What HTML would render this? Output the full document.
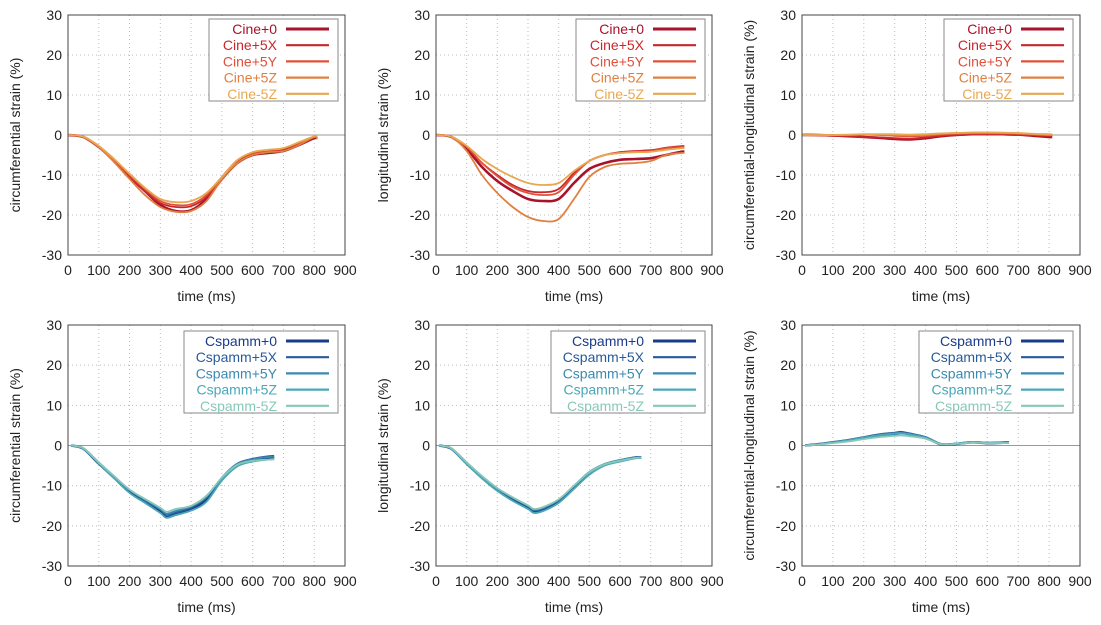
<!DOCTYPE html>
<html><head><meta charset="utf-8"><style>
body{margin:0;background:#fff;width:1101px;height:620px;overflow:hidden}
svg text{font-family:"Liberation Sans",sans-serif;font-size:14px;fill:#222}
</style></head><body>
<svg id="c" width="1101" height="620"></svg>
<script>
const cineTimes=[0,50,100,150,200,250,300,350,400,450,500,550,600,650,700,750,800,810];
const cspTimes=[10,50,100,150,200,250,300,320,350,400,450,500,550,600,650,670];
const cineNames=["Cine+0","Cine+5X","Cine+5Y","Cine+5Z","Cine-5Z"];
const cspNames=["Cspamm+0","Cspamm+5X","Cspamm+5Y","Cspamm+5Z","Cspamm-5Z"];
const xTicks=[0,100,200,300,400,500,600,700,800,900];
const yTicks=[-30,-20,-10,0,10,20,30];
const cineCirc=[
[0,-0.5,-3,-6.5,-10.5,-14,-17.5,-19,-18.8,-16,-11,-7,-5,-4.5,-4,-2.5,-0.8,-0.8],
[0,-0.5,-3,-6.5,-10.5,-14,-17,-18,-17.8,-15.5,-10.5,-6.5,-4.8,-4,-3.5,-2,-0.5,-0.5],
[0,-0.5,-2.8,-6.2,-10,-13.5,-16.5,-17.5,-17.3,-15,-10.5,-6.3,-4.5,-3.8,-3.3,-2,-0.5,-0.5],
[0,-0.5,-3,-6.8,-11,-15,-18,-19.2,-19,-16.5,-11,-7,-5,-4.3,-4,-2.5,-0.5,-1],
[0,-0.4,-2.7,-6,-9.7,-13.2,-16,-16.8,-16.5,-14.5,-10.5,-6.3,-4.3,-3.7,-3.3,-1.8,-0.3,-0.3]];
const cineLong=[
[0,-0.5,-3.5,-8,-11.5,-14,-16,-16.5,-16,-12,-8.5,-7,-6.2,-6,-5.8,-5,-4.2,-4.2],
[0,-0.4,-3,-7,-10,-12.5,-14,-14.3,-13.5,-9.5,-6.5,-5,-4.3,-4,-3.8,-3.2,-2.8,-2.8],
[0,-0.4,-3,-7,-10.3,-13,-14.5,-15,-14.3,-10,-6.5,-5,-4.5,-4.2,-4,-3.3,-3,-3],
[0,-0.5,-4,-10,-14.5,-18,-20.5,-21.5,-21,-16,-10.5,-8,-7.2,-7,-6.5,-5,-4.5,-4.5],
[0,-0.4,-2.7,-6,-8.5,-10.5,-12,-12.5,-12,-9,-6.5,-5,-4.5,-4.3,-4.2,-3.7,-3.3,-3.3]];
const cineCL=[
[0,0,-0.1,-0.3,-0.5,-0.7,-1,-1.1,-0.8,-0.3,0,0.2,0.2,0.2,0.1,-0.2,-0.5,-0.5],
[0,-0.1,-0.2,-0.3,-0.5,-0.6,-0.8,-0.9,-0.6,-0.2,0,0.1,0.1,0.1,0,-0.1,-0.3,-0.3],
[0,0,0,0,0.1,0,-0.2,-0.3,-0.2,0.1,0.3,0.4,0.4,0.4,0.3,0.1,0,0],
[0,0,0,0,0.1,0.1,0,-0.1,0,0.3,0.5,0.6,0.6,0.5,0.4,0.2,0,0],
[0,0,0,0.1,0.2,0.2,0.2,0.1,0.2,0.4,0.5,0.6,0.6,0.6,0.5,0.3,0.2,0.2]];
const cspCirc=[
[0,-0.8,-4.5,-8,-11.5,-14,-16.5,-17.8,-17.2,-16,-13.5,-8.5,-5,-3.8,-3.3,-3.2],
[0,-0.8,-4.3,-7.8,-11.2,-13.8,-16,-17.2,-16.7,-15.5,-13,-8,-4.5,-3.3,-2.7,-2.6],
[0,-0.7,-4.2,-7.7,-11,-13.5,-15.8,-17,-16.3,-15.2,-12.8,-8,-4.5,-3.4,-2.9,-2.8],
[0,-0.8,-4.5,-8.2,-11.8,-14.3,-16.8,-18,-17.3,-16.2,-14,-8.7,-5.2,-4,-3.5,-3.4],
[0,-0.7,-4.2,-7.6,-11,-13.3,-15.5,-16.5,-15.8,-15,-12.5,-8,-4.8,-3.8,-3.5,-3.4]];
const cspLong=[
[0,-0.8,-4.5,-8,-11,-13.5,-15.5,-16.5,-16,-14,-10.5,-7,-4.8,-3.8,-3,-3],
[0,-0.8,-4.3,-7.8,-10.8,-13.2,-15.2,-16.2,-15.7,-13.7,-10.2,-6.7,-4.6,-3.6,-2.9,-2.9],
[0,-0.7,-4.2,-7.7,-10.7,-13,-15,-16,-15.5,-13.5,-10,-6.6,-4.6,-3.6,-3,-3],
[0,-0.8,-4.6,-8.2,-11.3,-13.8,-15.8,-16.8,-16.3,-14.3,-10.8,-7.3,-5,-4,-3.2,-3.1],
[0,-0.7,-4.2,-7.6,-10.6,-12.9,-14.9,-15.8,-15.3,-13.4,-10,-6.7,-4.7,-3.8,-3.1,-3]];
const cspCL=[
[0,0.3,0.8,1.3,2,2.6,3,3.2,2.8,2,0.3,0.4,0.8,0.6,0.7,0.8],
[0,0.3,0.8,1.4,2.1,2.8,3.2,3.4,3,2.1,0.3,0.5,0.9,0.7,0.8,0.9],
[0,0.3,0.7,1.2,1.9,2.5,2.8,3,2.7,1.9,0.3,0.4,0.8,0.6,0.6,0.7],
[0,0.3,0.8,1.3,2,2.6,3,3.1,2.8,2,0.4,0.5,0.9,0.7,0.7,0.8],
[0,0.2,0.6,1,1.6,2.1,2.4,2.5,2.3,1.7,0.3,0.4,0.7,0.6,0.6,0.6]];
const cineColors=["#a8122a","#c8282c","#e0503a","#e08040","#e8a850"];
const cspColors=["#1a3a8a","#2a5a9a","#3a8ab0","#48a8b8","#88c8b8"];
const widths=[2.6,1.8,1.8,1.8,1.8];
const NS="http://www.w3.org/2000/svg";
const svg=document.getElementById('c');
function mk(tag,at,parent){const e=document.createElementNS(NS,tag);for(const k in at)e.setAttribute(k,at[k]);(parent||svg).appendChild(e);return e;}
function smooth(P){let d='M'+P[0][0].toFixed(1)+','+P[0][1].toFixed(1);
 for(let i=0;i<P.length-1;i++){const p0=P[i-1]||P[i],p1=P[i],p2=P[i+1],p3=P[i+2]||p2;
  const c1=[p1[0]+(p2[0]-p0[0])/6,p1[1]+(p2[1]-p0[1])/6],c2=[p2[0]-(p3[0]-p1[0])/6,p2[1]-(p3[1]-p1[1])/6];
  d+=` C${c1[0].toFixed(1)},${c1[1].toFixed(1)} ${c2[0].toFixed(1)},${c2[1].toFixed(1)} ${p2[0].toFixed(1)},${p2[1].toFixed(1)}`;}
 return d;}
const cols=[{l:68,r:345,yl:20},{l:436,r:712,yl:388},{l:802,r:1080,yl:754}];
const rows=[{t:15,b:255},{t:325,b:566}];
const panels=[
{c:0,r:0,ttl:"circumferential strain (%)",t:cineTimes,d:cineCirc,n:cineNames,col:cineColors,key:"cine-circ"},
{c:1,r:0,ttl:"longitudinal strain (%)",t:cineTimes,d:cineLong,n:cineNames,col:cineColors,key:"cine-long"},
{c:2,r:0,ttl:"circumferential-longitudinal strain (%)",t:cineTimes,d:cineCL,n:cineNames,col:cineColors,key:"cine-cl"},
{c:0,r:1,ttl:"circumferential strain (%)",t:cspTimes,d:cspCirc,n:cspNames,col:cspColors,key:"cspamm-circ"},
{c:1,r:1,ttl:"longitudinal strain (%)",t:cspTimes,d:cspLong,n:cspNames,col:cspColors,key:"cspamm-long"},
{c:2,r:1,ttl:"circumferential-longitudinal strain (%)",t:cspTimes,d:cspCL,n:cspNames,col:cspColors,key:"cspamm-cl"}];
panels.forEach(p=>{
 const C=cols[p.c],R=rows[p.r];
 const X=v=>C.l+(v/900)*(C.r-C.l);
 const Y=v=>R.b-((v+30)/60)*(R.b-R.t);
 const g=mk('g',{});
 
 
 xTicks.forEach(v=>{
  if(v>0&&v<900)mk('line',{x1:X(v),x2:X(v),y1:R.t,y2:R.b,stroke:'#bbb','stroke-dasharray':'1,3'},g);
  const t=mk('text',{x:X(v),y:R.b+20,'text-anchor':'middle'},g);t.textContent=v;
  
 });
 yTicks.forEach(v=>{
  if(v>-30&&v<30&&v!==0)mk('line',{x1:C.l,x2:C.r,y1:Y(v),y2:Y(v),stroke:'#bbb','stroke-dasharray':'1,3'},g);
  const t=mk('text',{x:C.l-6,y:Y(v)+5,'text-anchor':'end'},g);t.textContent=v;
  
 });
 mk('line',{x1:C.l,x2:C.r,y1:Y(0),y2:Y(0),stroke:'#999','stroke-width':1},g);
 const xt=mk('text',{x:(C.l+C.r)/2,y:R.b+46,'text-anchor':'middle'},g);xt.textContent="time (ms)";
 
 const yt=mk('text',{x:C.yl,y:(R.t+R.b)/2,'text-anchor':'middle',transform:`rotate(-90 ${C.yl} ${(R.t+R.b)/2})`},g);yt.textContent=p.ttl;
 
 for(let i=0;i<p.d.length;i++){
  const P=p.d[i].map((v,j)=>[X(p.t[j]),Y(v)]);
  const pl=mk('path',{d:smooth(P),fill:'none',stroke:p.col[i],'stroke-width':widths[i],'stroke-linejoin':'round'},g);
  
  
 }
 mk('rect',{x:C.l,y:R.t,width:C.r-C.l,height:R.b-R.t,fill:'none',stroke:'#444','stroke-width':1},g);
 const lw=p.r===0?129:154, lx=C.r-7-lw, ly=R.t+(p.r===0?4:6), lh=82;
 const lg=mk('g',{},g);
 
 
 mk('rect',{x:lx,y:ly,width:lw,height:lh,fill:'#fff',stroke:'#888'},lg);
 p.n.forEach((nm,i)=>{
  const yy=ly+10+i*16.2;
  const t=mk('text',{x:C.r-68,y:yy+5,'text-anchor':'end',style:'fill:'+p.col[i]},lg);t.textContent=nm;
  
  mk('line',{x1:C.r-59,x2:C.r-16,y1:yy,y2:yy,stroke:p.col[i],'stroke-width':widths[i]+0.4},lg);
 });
});
</script>
</body></html>
